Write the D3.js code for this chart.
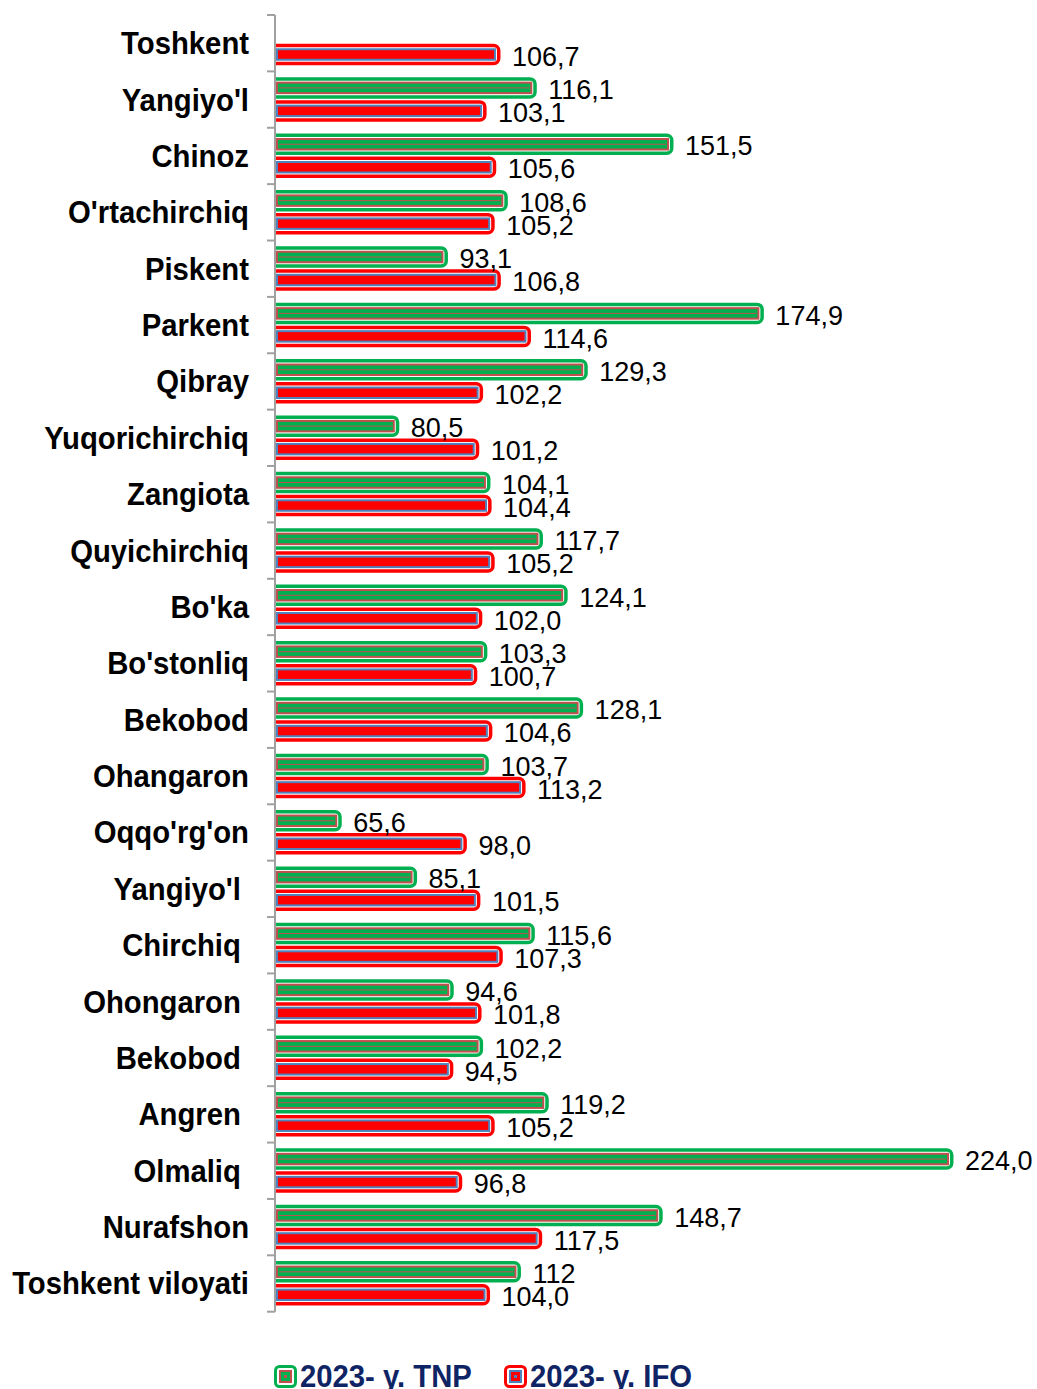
<!DOCTYPE html>
<html>
<head>
<meta charset="utf-8">
<script src="https://cdn.jsdelivr.net/npm/d3@7"></script>
<style>
  html, body { margin: 0; padding: 0; background: #fff; }
  svg text { font-family: "Liberation Sans", Arial, sans-serif; white-space: pre; }
</style>
</head>
<body>
<svg id="chart" width="1037" height="1389"></svg>
<script>
// Districts and cities of Toshkent viloyati, top to bottom (city names carry a trailing space)
const categories = [
  "Toshkent", "Yangiyo'l", "Chinoz", "O'rtachirchiq", "Piskent", "Parkent", "Qibray",
  "Yuqorichirchiq", "Zangiota", "Quyichirchiq", "Bo'ka", "Bo'stonliq", "Bekobod",
  "Ohangaron", "Oqqo'rg'on", "Yangiyo'l ", "Chirchiq ", "Ohongaron ", "Bekobod ",
  "Angren ", "Olmaliq ", "Nurafshon", "Toshkent viloyati"
];
// 2023- y. TNP, % (as printed on the chart)
const tnpValues = [
  null, "116,1", "151,5", "108,6", "93,1", "174,9", "129,3", "80,5", "104,1", "117,7",
  "124,1", "103,3", "128,1", "103,7", "65,6", "85,1", "115,6", "94,6", "102,2",
  "119,2", "224,0", "148,7", "112"
];
// 2023- y. IFO, % (as printed on the chart)
const ifoValues = [
  "106,7", "103,1", "105,6", "105,2", "106,8", "114,6", "102,2", "101,2", "104,4", "105,2",
  "102,0", "100,7", "104,6", "113,2", "98,0", "101,5", "107,3", "101,8", "94,5",
  "105,2", "96,8", "117,5", "104,0"
];
const seriesNames = ["2023- y. TNP", "2023- y. IFO"];
const axisDomain = [50, 250];

const num = s => (s == null ? null : +s.replace(",", "."));

const series = [
  { key: "tnp", name: seriesNames[0], labels: tnpValues, outer: "#00B050", border: "#C0504D", fill: "#00B050", core: "#C0504D" },
  { key: "ifo", name: seriesNames[1], labels: ifoValues, outer: "#FF0000", border: "#4F81BD", fill: "#FF0000", core: null }
];

const svg = d3.select("#chart");
const axisX = 275;

const x = d3.scaleLinear().domain(axisDomain).range([277, 1049.4]);
const y = d3.scaleBand().domain(d3.range(categories.length)).range([15, 1311.7]).padding(0);
const ySub = d3.scaleBand().domain(series.map(s => s.key)).range([5, 51]).padding(0);

svg.append("defs").append("clipPath").attr("id", "plotClip")
  .append("rect").attr("x", axisX + 1).attr("y", 0).attr("width", 1037).attr("height", 1389);

// Bars
const plot = svg.append("g").attr("clip-path", "url(#plotClip)");
series.forEach(s => {
  const g = plot.append("g").attr("class", "series-" + s.key);
  s.labels.forEach((lab, i) => {
    const v = num(lab);
    if (v == null) return;
    const top = y(i) + ySub(s.key);
    const h = ySub.bandwidth();
    const xe = x(v);
    g.append("rect")
      .attr("x", axisX - 12).attr("y", top + 2.5)
      .attr("width", xe + 2.75 - (axisX - 12)).attr("height", h - 5)
      .attr("rx", 5).attr("ry", 5)
      .attr("fill", "#fff").attr("stroke", s.outer).attr("stroke-width", 3.5);
    g.append("rect")
      .attr("x", x(axisDomain[0])).attr("y", top + 6.25)
      .attr("width", xe - 1 - x(axisDomain[0])).attr("height", h - 12.5)
      .attr("fill", s.fill).attr("stroke", s.border).attr("stroke-width", 2);
    if (s.core) {
      g.append("line")
        .attr("x1", x(axisDomain[0]) + 2).attr("x2", xe - 3)
        .attr("y1", top + h / 2).attr("y2", top + h / 2)
        .attr("stroke", s.core).attr("stroke-width", 1);
    }
  });
});

// Value labels
series.forEach(s => {
  s.labels.forEach((lab, i) => {
    const v = num(lab);
    if (v == null) return;
    const cy = y(i) + ySub(s.key) + ySub.bandwidth() / 2 + 1.5;
    svg.append("text")
      .attr("x", x(v) + 16).attr("y", cy)
      .attr("dy", "0.36em")
      .attr("font-size", 27)
      .attr("fill", "#000")
      .text(lab);
  });
});

// Category axis
const axisG = svg.append("g");
axisG.append("line")
  .attr("x1", axisX).attr("x2", axisX)
  .attr("y1", y.range()[0]).attr("y2", y.range()[1])
  .attr("stroke", "#A0A0A0").attr("stroke-width", 2);
const bounds = d3.range(categories.length + 1).map(i => i < categories.length ? y(i) : y.range()[1]);
axisG.selectAll("line.tick").data(bounds).join("line")
  .attr("class", "tick")
  .attr("x1", axisX - 8).attr("x2", axisX)
  .attr("y1", d => d).attr("y2", d => d)
  .attr("stroke", "#A0A0A0").attr("stroke-width", 2);

axisG.selectAll("text.cat").data(categories).join("text")
  .attr("class", "cat")
  .attr("transform", (d, i) => `translate(249,${y(i) + y.bandwidth() / 2}) scale(0.96,1)`)
  .attr("dy", "0.36em")
  .attr("text-anchor", "end")
  .attr("font-size", 30.5)
  .attr("font-weight", "bold")
  .attr("fill", "#000")
  .text(d => d);

// Legend
const legend = svg.append("g");
const legendX = [274, 504];
series.forEach((s, k) => {
  const lg = legend.append("g").attr("transform", `translate(${legendX[k]},1365)`);
  lg.append("rect").attr("x", 1.5).attr("y", 1.5).attr("width", 20).attr("height", 20)
    .attr("rx", 4).attr("fill", "#fff").attr("stroke", s.outer).attr("stroke-width", 3);
  lg.append("rect").attr("x", 5).attr("y", 5).attr("width", 13).attr("height", 13).attr("fill", s.border);
  lg.append("rect").attr("x", 7).attr("y", 7).attr("width", 9).attr("height", 9).attr("fill", s.fill);
  lg.append("rect").attr("x", 10).attr("y", 10).attr("width", 3).attr("height", 3).attr("fill", s.border);
  lg.append("text")
    .attr("transform", "translate(26,22) scale(0.96,1)")
    .attr("font-size", 30.5).attr("font-weight", "bold")
    .attr("fill", "#0F2464")
    .text(s.name);
});
</script>
</body>
</html>
